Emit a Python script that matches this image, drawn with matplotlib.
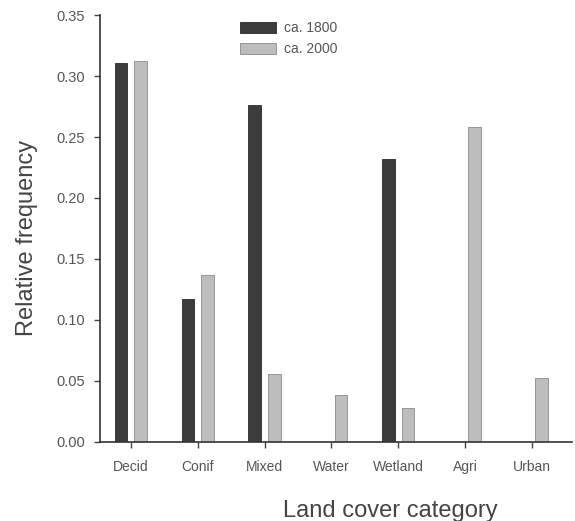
from matplotlib import pyplot as plt
import numpy as np

# data
categories = ["Decid", "Conif", "Mixed", "Water", "Wetland", "Agri", "Urban"]
freq_1800 = [0.311, 0.117, 0.276, 0.0, 0.232, 0.0, 0.0]
freq_2000 = [0.312, 0.137, 0.056, 0.038, 0.028, 0.258, 0.052]
series_labels = ["ca. 1800", "ca. 2000"]
y_ticks = [0.00, 0.05, 0.10, 0.15, 0.20, 0.25, 0.30, 0.35]

plt.rcParams["font.family"] = "Liberation Sans"

fig = plt.figure(figsize=(5.75, 5.21), dpi=100)
ax = fig.add_axes([0.174, 0.152, 0.821, 0.819])

x = np.arange(len(categories))
width = 0.19
offset = 0.145
b1 = ax.bar(x - offset, freq_1800, width, color="#3c3c3c", edgecolor="#2a2a2a", linewidth=0.6,
            label=series_labels[0])
b2 = ax.bar(x + offset, freq_2000, width, color="#bdbdbd", edgecolor="#8a8a8a", linewidth=0.6,
            label=series_labels[1])

ax.set_xlim(-0.46, 6.6)
ax.set_ylim(0, 0.35)
ax.set_yticks(y_ticks)
ax.set_yticklabels(["{:.2f}".format(v) for v in y_ticks])
ax.set_xticks(x)
ax.set_xticklabels(categories)

for side in ["top", "right"]:
    ax.spines[side].set_visible(False)
for side in ["left", "bottom"]:
    ax.spines[side].set_linewidth(1.2)
    ax.spines[side].set_color("#333333")

ax.tick_params(axis="both", direction="out", length=4, width=1, color="#444444",
               labelcolor="#555555")
ax.tick_params(axis="x", pad=9, labelsize=10)
ax.tick_params(axis="y", pad=7, labelsize=10.5)

ax.set_ylabel("Relative frequency", fontsize=17, color="#444444")
ax.yaxis.set_label_coords(-0.132, 0.478)
fig.text(0.678, 0.008, "Land cover category", fontsize=17, color="#444444", ha="center")

ax.legend(loc="upper left", bbox_to_anchor=(0.27, 1.015), frameon=False, fontsize=10,
          labelcolor="#555555", handlelength=2.6, handleheight=0.9, handletextpad=0.6,
          labelspacing=0.5)

fig.savefig("out.png", dpi=100)
